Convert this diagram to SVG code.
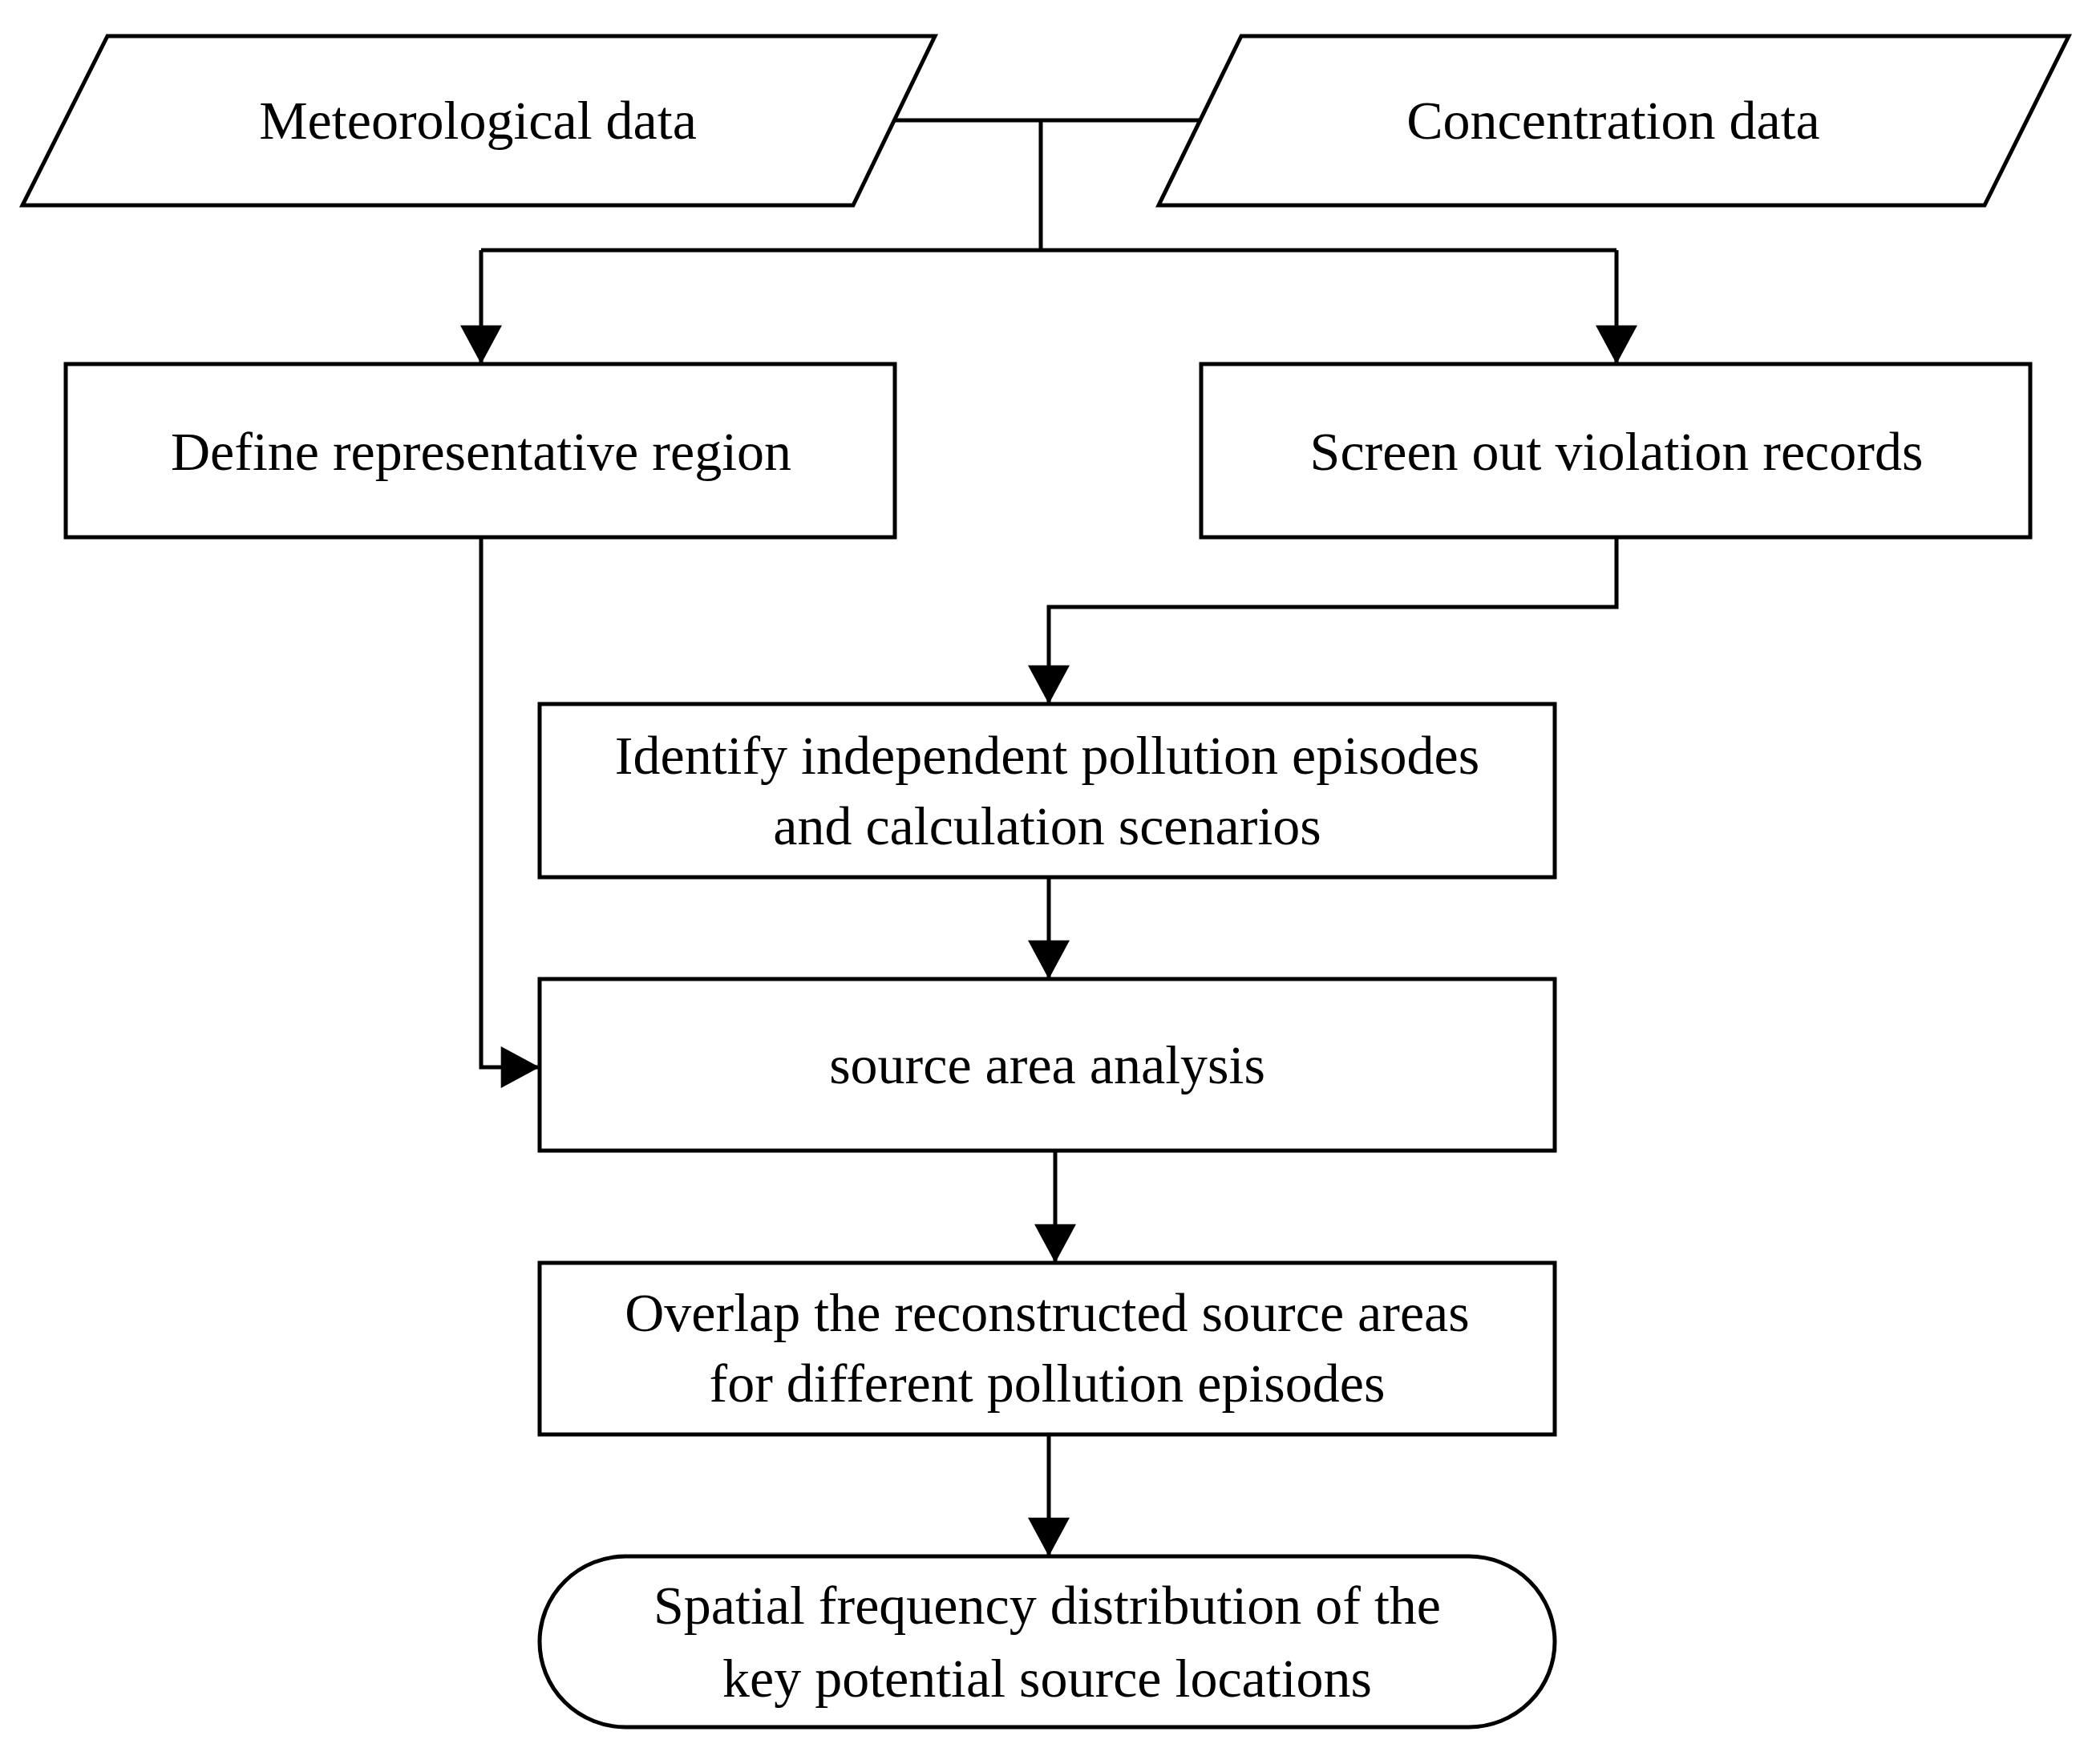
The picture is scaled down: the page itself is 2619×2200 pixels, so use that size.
<svg xmlns="http://www.w3.org/2000/svg" width="2619" height="2200" viewBox="0 0 2619 2200">
<style>
.s{fill:#fff;stroke:#000;stroke-width:5}
.c{fill:none;stroke:#000;stroke-width:5}
text{font-family:"Liberation Serif",serif;font-size:68px;text-anchor:middle;dominant-baseline:central;fill:#000}
</style>
<defs><marker id="a" markerUnits="userSpaceOnUse" markerWidth="56" markerHeight="52" refX="52" refY="28" orient="auto" viewBox="0 0 52 56"><path d="M0,0L52,28L0,56Z" fill="#000"/></marker></defs>
<rect width="2619" height="2200" fill="#fff"/>
<g id="connectors">
<path class="c" d="M1116,150H1500M1298,150V312"/>
<path class="c" d="M600,312H2016"/>
<path class="c" d="M600,312V454" marker-end="url(#a)"/>
<path class="c" d="M2016,312V454" marker-end="url(#a)"/>
<path class="c" d="M2016,670V757H1308V878" marker-end="url(#a)"/>
<path class="c" d="M1308,1094V1221" marker-end="url(#a)"/>
<path class="c" d="M600,670V1331H673" marker-end="url(#a)"/>
<path class="c" d="M1316,1435V1575" marker-end="url(#a)"/>
<path class="c" d="M1308,1789V1941" marker-end="url(#a)"/>
</g>
<g id="met"><polygon class="s" points="134,45 1166,45 1064,256 28,256"/><text x="596" y="150">Meteorological data</text></g>
<g id="conc"><polygon class="s" points="1548,45 2580,45 2475,256 1445,256"/><text x="2012" y="150">Concentration data</text></g>
<g id="define"><rect class="s" x="82" y="454" width="1034" height="216"/><text x="600" y="563">Define representative region</text></g>
<g id="screen"><rect class="s" x="1498" y="454" width="1034" height="216"/><text x="2016" y="563">Screen out violation records</text></g>
<g id="identify"><rect class="s" x="673" y="878" width="1266" height="216"/><text x="1306" y="942">Identify independent pollution episodes</text><text x="1306" y="1030">and calculation scenarios</text></g>
<g id="source"><rect class="s" x="673" y="1221" width="1266" height="214"/><text x="1306" y="1328">source area analysis</text></g>
<g id="overlap"><rect class="s" x="673" y="1575" width="1266" height="214"/><text x="1306" y="1637">Overlap the reconstructed source areas</text><text x="1306" y="1725">for different pollution episodes</text></g>
<g id="spatial"><rect class="s" x="673" y="1941" width="1266" height="213" rx="107"/><text x="1306" y="2002">Spatial frequency distribution of the</text><text x="1306" y="2093">key potential source locations</text></g>
</svg>
